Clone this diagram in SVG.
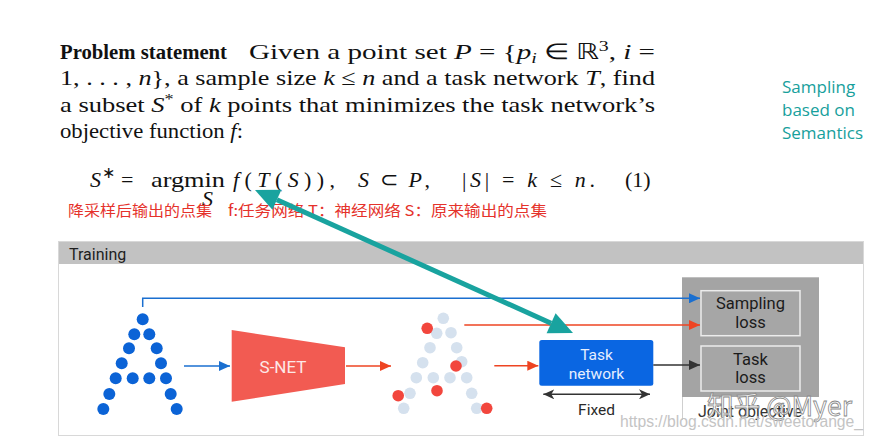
<svg xmlns="http://www.w3.org/2000/svg" width="874" height="440" viewBox="0 0 874 440">
<style>
.tm{font-family:"Liberation Serif","Times New Roman",serif;font-size:22px;fill:#111}
.it{font-style:italic}
.red{font-family:"Noto Sans CJK SC","Noto Sans",sans-serif;font-size:15px;fill:#e5322b}
.teal{font-family:"Open Sans","Liberation Sans",sans-serif;font-size:17px;fill:#17a09c}
.rb{font-family:Roboto,"Liberation Sans",sans-serif}
.bp{fill:#0b63d6}
.lp{fill:#d5e1ee}
.rp{fill:#f2463d}
.lossbox{fill:#a6a6a6;stroke:#ececec;stroke-width:1.5}
.losst{font-family:Roboto,"Liberation Sans",sans-serif;font-size:16.5px;fill:#1b1b1b;text-anchor:middle}
</style>
<defs>
<marker id="ab" markerUnits="userSpaceOnUse" markerWidth="12" markerHeight="10" refX="11" refY="5" orient="auto"><path d="M0,0 L11,5 L0,10 Z" fill="#1a6fd0"/></marker>
<marker id="ar" markerUnits="userSpaceOnUse" markerWidth="12" markerHeight="10" refX="11" refY="5" orient="auto"><path d="M0,0 L11,5 L0,10 Z" fill="#ee4422"/></marker>
<marker id="ak" markerUnits="userSpaceOnUse" markerWidth="12" markerHeight="10" refX="11" refY="5" orient="auto"><path d="M0,0 L11,5 L0,10 Z" fill="#333"/></marker>
<marker id="ad" markerUnits="userSpaceOnUse" markerWidth="12" markerHeight="10" refX="11" refY="5" orient="auto-start-reverse"><path d="M0,0 L11,5 L0,10 L3,5 Z" fill="#333"/></marker>
</defs>
<rect width="874" height="440" fill="#fff"/>

<g id="statement">
<text class="tm" x="60" y="58.5" font-weight="bold" textLength="167" lengthAdjust="spacingAndGlyphs">Problem statement</text>
<text class="tm" x="249" y="58.5" textLength="406" lengthAdjust="spacingAndGlyphs">Given a point set <tspan class="it">P</tspan> = {<tspan class="it">p</tspan><tspan class="it" font-size="15" dy="4">i</tspan><tspan dy="-4"> ∈ ℝ</tspan><tspan font-size="15" dy="-8">3</tspan><tspan dy="8">, </tspan><tspan class="it">i</tspan> =</text>
<text class="tm" x="60" y="85" textLength="595" lengthAdjust="spacingAndGlyphs">1, . . . , <tspan class="it">n</tspan>}, a sample size <tspan class="it">k</tspan> ≤ <tspan class="it">n</tspan> and a task network <tspan class="it">T</tspan>, find</text>
<text class="tm" x="60" y="111.5" textLength="595" lengthAdjust="spacingAndGlyphs">a subset <tspan class="it">S</tspan><tspan font-size="15" dy="-8">*</tspan><tspan dy="8"> of </tspan><tspan class="it">k</tspan> points that minimizes the task network’s</text>
<text class="tm" x="60" y="138" textLength="183" lengthAdjust="spacingAndGlyphs">objective function <tspan class="it">f</tspan>:</text>
</g>

<g id="formula">
<text class="tm" x="90" y="187" font-size="23"><tspan class="it">S</tspan><tspan font-size="16" dx="1" dy="-9">∗</tspan></text>
<text class="tm" x="121" y="187" font-size="23">=</text>
<text class="tm" x="151" y="187" font-size="23" textLength="74" lengthAdjust="spacingAndGlyphs">argmin</text>
<text class="tm it" x="202" y="206" font-size="17">S</text>
<text class="tm" x="233" y="187" font-size="23" textLength="102" lengthAdjust="spacing"><tspan class="it">f</tspan>(<tspan class="it">T</tspan>(<tspan class="it">S</tspan>)),</text>
<text class="tm" x="358" y="187" font-size="23" textLength="72" lengthAdjust="spacing"><tspan class="it">S</tspan> ⊂ <tspan class="it">P</tspan>,</text>
<text class="tm" x="462" y="187" font-size="23" textLength="133" lengthAdjust="spacing">|<tspan class="it">S</tspan>| = <tspan class="it">k</tspan> ≤ <tspan class="it">n</tspan>.</text>
<text class="tm" x="625" y="187" font-size="23">(1)</text>
</g>

<g id="notes">
<text class="red" x="68" y="216" textLength="144" lengthAdjust="spacingAndGlyphs">降采样后输出的点集</text>
<text class="red" x="228" y="216" textLength="319" lengthAdjust="spacingAndGlyphs">f:任务网络 T：神经网络  S：原来输出的点集</text>
<text class="teal" x="782" y="93">Sampling</text>
<text class="teal" x="782" y="116">based on</text>
<text class="teal" x="782" y="139">Semantics</text>
</g>

<g id="training-panel">
<rect x="58.5" y="241.5" width="805" height="194" fill="#fff" stroke="#d8d8d8" stroke-width="1"/>
<rect x="59" y="242" width="804" height="22" fill="#c2c2c2"/>
<text class="rb" x="69" y="260" font-size="16" fill="#1e1e1e">Training</text>
</g>

<g id="input-points">
<circle class="bp" cx="142.7" cy="319.3" r="6"/>
<circle class="bp" cx="134.3" cy="334.3" r="6"/><circle class="bp" cx="149.3" cy="334.3" r="6"/>
<circle class="bp" cx="129" cy="348.3" r="6"/><circle class="bp" cx="156.7" cy="348.3" r="6"/>
<circle class="bp" cx="121.7" cy="363.3" r="6"/><circle class="bp" cx="161" cy="363.3" r="6"/>
<circle class="bp" cx="115.7" cy="378.3" r="6"/><circle class="bp" cx="132.7" cy="378.3" r="6"/><circle class="bp" cx="149.3" cy="378.3" r="6"/><circle class="bp" cx="166" cy="378.3" r="6"/>
<circle class="bp" cx="109.3" cy="394" r="6"/><circle class="bp" cx="170.7" cy="394" r="6"/>
<circle class="bp" cx="103.3" cy="409" r="6"/><circle class="bp" cx="176.7" cy="409" r="6"/>
</g>

<g id="snet">
<path d="M231.7,330 L345,347.3 L345,384 L231.7,401.7 Z" fill="#f25b52"/>
<text class="rb" x="283" y="373" font-size="17" fill="#fde8e6" text-anchor="middle">S-NET</text>
</g>

<g id="sampled-points">
<circle class="lp" cx="443.3" cy="318.3" r="5.8"/>
<circle class="lp" cx="436.7" cy="333.3" r="5.8"/><circle class="lp" cx="451" cy="332.7" r="5.8"/>
<circle class="lp" cx="430" cy="347.7" r="5.8"/><circle class="lp" cx="456.7" cy="347.7" r="5.8"/>
<circle class="lp" cx="422.7" cy="362.7" r="5.8"/><circle class="lp" cx="461.7" cy="361.7" r="5.8"/>
<circle class="lp" cx="416.3" cy="377.7" r="5.8"/><circle class="lp" cx="433.3" cy="377.7" r="5.8"/><circle class="lp" cx="450" cy="377.7" r="5.8"/><circle class="lp" cx="466.7" cy="377.7" r="5.8"/>
<circle class="lp" cx="410" cy="393.3" r="5.8"/><circle class="lp" cx="471.7" cy="393.3" r="5.8"/>
<circle class="lp" cx="403.7" cy="408.3" r="5.8"/><circle class="lp" cx="476.7" cy="408.3" r="5.8"/>
<circle class="rp" cx="427.2" cy="328.3" r="5.8"/>
<circle class="rp" cx="456" cy="366" r="5.8"/>
<circle class="rp" cx="437" cy="390.7" r="5.8"/>
<circle class="rp" cx="398.2" cy="395.7" r="5.8"/>
<circle class="rp" cx="486.7" cy="408.3" r="5.8"/>
</g>

<g id="task-network">
<rect x="539.3" y="340" width="114" height="45.7" rx="2.5" fill="#0a66e2"/>
<text class="rb" x="596.5" y="360" font-size="15.5" fill="#e6efff" text-anchor="middle">Task</text>
<text class="rb" x="596.5" y="379" font-size="15.5" fill="#e6efff" text-anchor="middle">network</text>
<text class="rb" x="596.5" y="414.5" font-size="15.5" fill="#2a2a2a" text-anchor="middle">Fixed</text>
</g>

<g id="joint-objective">
<rect x="682" y="277.3" width="137" height="119.7" fill="#a4a4a4"/>
<line x1="682.5" y1="397" x2="682.5" y2="420" stroke="#cfcfcf" stroke-width="1"/>
<text class="rb" x="750" y="416.5" font-size="16" fill="#333" text-anchor="middle">Joint objective</text>
</g>
<g id="sampling-loss">
<rect class="lossbox" x="701" y="290.7" width="99" height="45"/>
<text class="losst" x="750.5" y="309">Sampling</text>
<text class="losst" x="750.5" y="327.5">loss</text>
</g>
<g id="task-loss">
<rect class="lossbox" x="701" y="346" width="99" height="45"/>
<text class="losst" x="750.5" y="364.5">Task</text>
<text class="losst" x="750.5" y="383">loss</text>
</g>

<g id="connectors" fill="none">
<polyline points="142.7,307 142.7,298.3 700,298.3" stroke="#1a6fd0" stroke-width="1.5" marker-end="url(#ab)"/>
<line x1="184" y1="366" x2="230" y2="366" stroke="#1a6fd0" stroke-width="1.5" marker-end="url(#ab)"/>
<line x1="346" y1="366" x2="391" y2="366" stroke="#ee4422" stroke-width="1.5" marker-end="url(#ar)"/>
<line x1="464.3" y1="325" x2="700" y2="325" stroke="#ee4422" stroke-width="1.5" marker-end="url(#ar)"/>
<line x1="494.3" y1="365.7" x2="538.3" y2="365.7" stroke="#ee4422" stroke-width="1.5" marker-end="url(#ar)"/>
<line x1="653.3" y1="365" x2="700" y2="365" stroke="#333" stroke-width="1.5" marker-end="url(#ak)"/>
<line x1="543.3" y1="394.3" x2="650" y2="394.3" stroke="#333" stroke-width="1.5" marker-start="url(#ad)" marker-end="url(#ad)"/>
<g id="teal-arrow">
<line x1="276.9" y1="199.8" x2="551.1" y2="323.2" stroke="#19a39f" stroke-width="5"/>
<polygon points="573,333 546.6,333.2 555.6,313.2" fill="#19a39f"/>
<polygon points="255,190 272.4,209.8 281.4,189.8" fill="#19a39f"/>
</g>
</g>

<g id="watermark">
<text x="707" y="416" font-family="'Noto Sans CJK SC','Noto Sans',sans-serif" font-size="27" fill="#fff" fill-opacity="0.75" stroke="#888" stroke-width="0.8" textLength="145" lengthAdjust="spacingAndGlyphs">知乎 @Myer</text>
<text x="620" y="427" font-family="'Liberation Sans',Arial,sans-serif" font-size="16" fill="#c4c4c4" textLength="243" lengthAdjust="spacingAndGlyphs">https://blog.csdn.net/sweetorange_</text>
</g>
</svg>
